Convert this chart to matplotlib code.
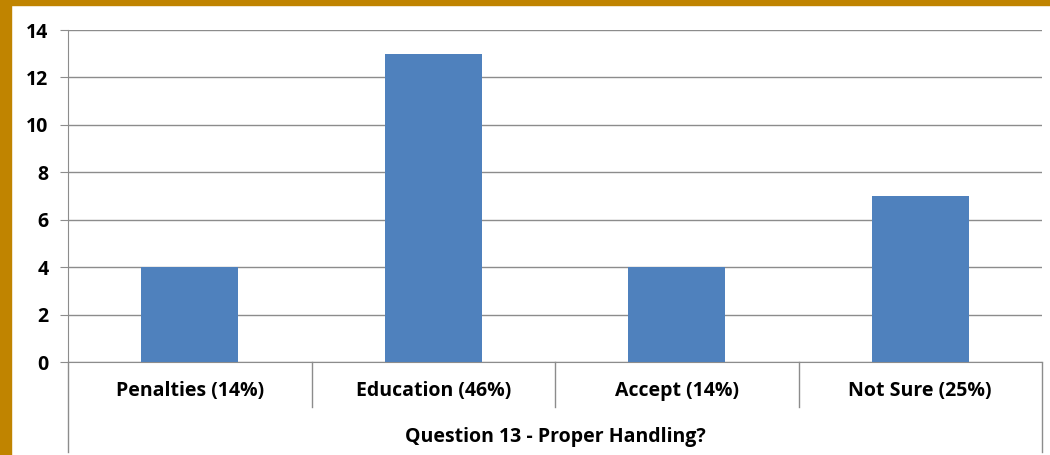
import matplotlib
matplotlib.use('Agg')
import matplotlib.pyplot as plt
from matplotlib.lines import Line2D
from matplotlib.patches import Rectangle
from matplotlib.transforms import blended_transform_factory

categories = ['Penalties (14%)', 'Education (46%)', 'Accept (14%)', 'Not Sure (25%)']
counts = [4, 13, 4, 7]
group_label = 'Question 13 - Proper Handling?'
y_ticks = [0, 2, 4, 6, 8, 10, 12, 14]

plt.rcParams['font.family'] = ['Open Sans', 'DejaVu Sans']

W, H = 1050, 455
fig = plt.figure(figsize=(W / 100, H / 100), dpi=100)
fig.patch.set_facecolor('white')

# golden frame along the left and top edges
fig.add_artist(Rectangle((0, 0), 11 / W, 1, transform=fig.transFigure,
                         color='#C08400', zorder=0))
fig.add_artist(Rectangle((0, 1 - 5 / H), 1, 5 / H, transform=fig.transFigure,
                         color='#C08400', zorder=0))

ax = fig.add_axes([68 / W, 1 - 362 / H, (1042 - 68) / W, (362 - 30) / H])
x = list(range(len(categories)))
ax.bar(x, counts, width=0.4, color='#4F81BD', zorder=3)

ax.set_xlim(-0.5, len(categories) - 0.5)
ax.set_ylim(0, 14)
ax.set_yticks(y_ticks)
ax.set_yticklabels([str(v) for v in y_ticks], fontsize=14, fontweight='bold')
ax.tick_params(axis='y', length=6, color='#8C8C8C', pad=8)
ax.set_xticks([])
ax.grid(axis='y', color='#8C8C8C', linewidth=1, zorder=0)

for side in ['top', 'right']:
    ax.spines[side].set_visible(False)
ax.spines['left'].set_color('#8C8C8C')
ax.spines['bottom'].set_color('#8C8C8C')

# two-level category axis below the plot
tr = blended_transform_factory(ax.transData, fig.transFigure)
for b in [x[0] - 0.5 + i for i in range(len(categories) + 1)]:
    outer = b in (x[0] - 0.5, x[-1] + 0.5)
    y_end = 1 - 452 / H if outer else 1 - 407 / H
    fig.add_artist(Line2D([b, b], [1 - 362 / H, y_end], transform=tr,
                          color='#8C8C8C', linewidth=1))

for xi, label in zip(x, categories):
    fig.text(xi, 1 - 391 / H, label, transform=tr, ha='center', va='center',
             fontsize=14, fontweight='bold', color='#000000')

fig.text(sum(x) / len(x), 1 - 437 / H, group_label, transform=tr,
         ha='center', va='center', fontsize=14, fontweight='bold', color='#000000')

fig.savefig('out.png', dpi=100)
